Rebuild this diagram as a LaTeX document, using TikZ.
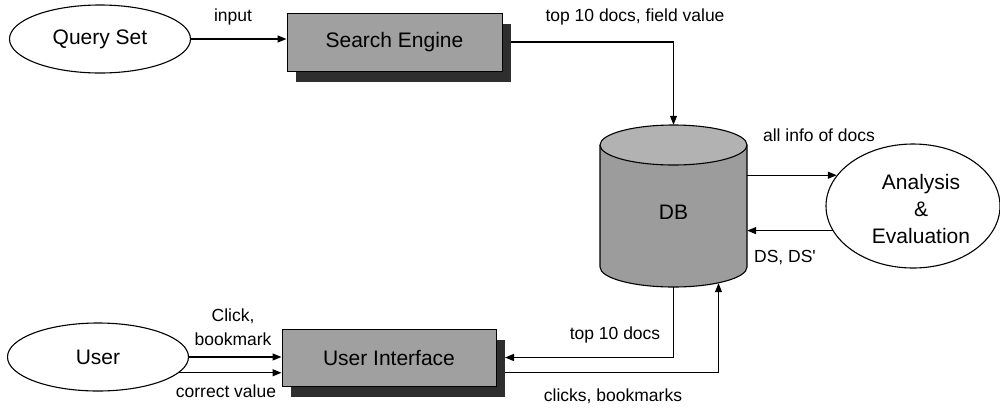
\documentclass[tikz,border=0pt]{standalone}
\usepackage{fontspec}
\setmainfont{Liberation Sans}
\newfontfamily\plainsans{Liberation Sans}
\usetikzlibrary{arrows.meta,shadows,shapes.geometric}
\definecolor{boxgray}{HTML}{A0A0A0}
\definecolor{shadowgray}{HTML}{2E2E2E}
\definecolor{dbgray}{HTML}{9C9C9C}
\definecolor{dbtop}{HTML}{B2B2B2}
\begin{document}
\begin{tikzpicture}[x=1pt,y=-1pt,
  every node/.style={inner sep=0pt, font=\fontsize{21}{27}\selectfont},
  lbl/.style={font=\fontsize{17.5}{24}\selectfont, align=center},
  oval/.style={ellipse, draw, line width=1.1pt, minimum width=181pt, minimum height=68pt},
  block/.style={draw, line width=1pt, fill=boxgray, minimum width=215pt, minimum height=58pt,
    drop shadow={shadow xshift=8.5pt, shadow yshift=-10.5pt, fill=shadowgray, opacity=1}},
  conn/.style={line width=1.3pt, -{Triangle[length=9pt,width=7pt]}},
  dbline/.style={line width=1.1pt}
]
\useasboundingbox (0,0) rectangle (1000,408);

% nodes
\node[oval] (qs) at (100,39) {Query Set};
\node[block] (se) at (394.5,42) {Search Engine};

% DB cylinder
\fill[dbgray] (600,145) -- (600,267) arc[start angle=180, end angle=360, x radius=73.5pt, y radius=20pt] -- (747,145) -- cycle;
\draw[dbline] (600,145) -- (600,267) arc[start angle=180, end angle=360, x radius=73.5pt, y radius=20pt] -- (747,145);
\filldraw[dbline, fill=dbtop] (673.5,145) ellipse [x radius=73.5pt, y radius=20pt];
\node[minimum width=147pt, minimum height=162pt] (db) at (673.5,206) {};
\node (dbt) at (673.5,212) {DB};

\node[oval, minimum width=174pt, minimum height=124pt] (ana) at (913,206) {};
\node[align=center] (anat) at (921,209) {Analysis\\\&\\Evaluation};

\node[oval] (user) at (98,357) {User};
\node[block, minimum width=214pt, minimum height=57pt] (ui) at (389,357.5) {User Interface};

% connectors
\draw[conn] (qs.east) -- (se.west |- qs.east);
\draw[conn] ([xshift=8.5pt]se.east) -| (db.north);
\draw[conn] (db.east |- ana.158) -- (ana.158);
\draw[conn] (ana.197) -- (db.east |- ana.197);
\draw[conn] (user.east) -- (ui.west |- user.east);
\draw[conn] (user.-11) -- (ui.west |- user.-11);
\draw[conn] (db.south) |- ([xshift=8.5pt]ui.east);
\draw[conn] ([xshift=8.5pt,yshift=-15pt]ui.east) -| ([xshift=45pt,yshift=4pt]db.south);

% labels
\node[lbl] (l1) at (233,17) {input};
\node[lbl] (l2) at (635,17) {top 10 docs, field value};
\node[lbl] (l3) at (819,135) {all info of docs};
\node[lbl] (l4) at (785,258) {{\plainsans DS, DS'}};
\node[lbl] (l5) at (233,327) {Click,\\bookmark};
\node[lbl] (l6) at (226,391) {correct value};
\node[lbl] (l7) at (615,335) {top 10 docs};
\node[lbl] (l8) at (613,396) {clicks, bookmarks};
\end{tikzpicture}
\end{document}
